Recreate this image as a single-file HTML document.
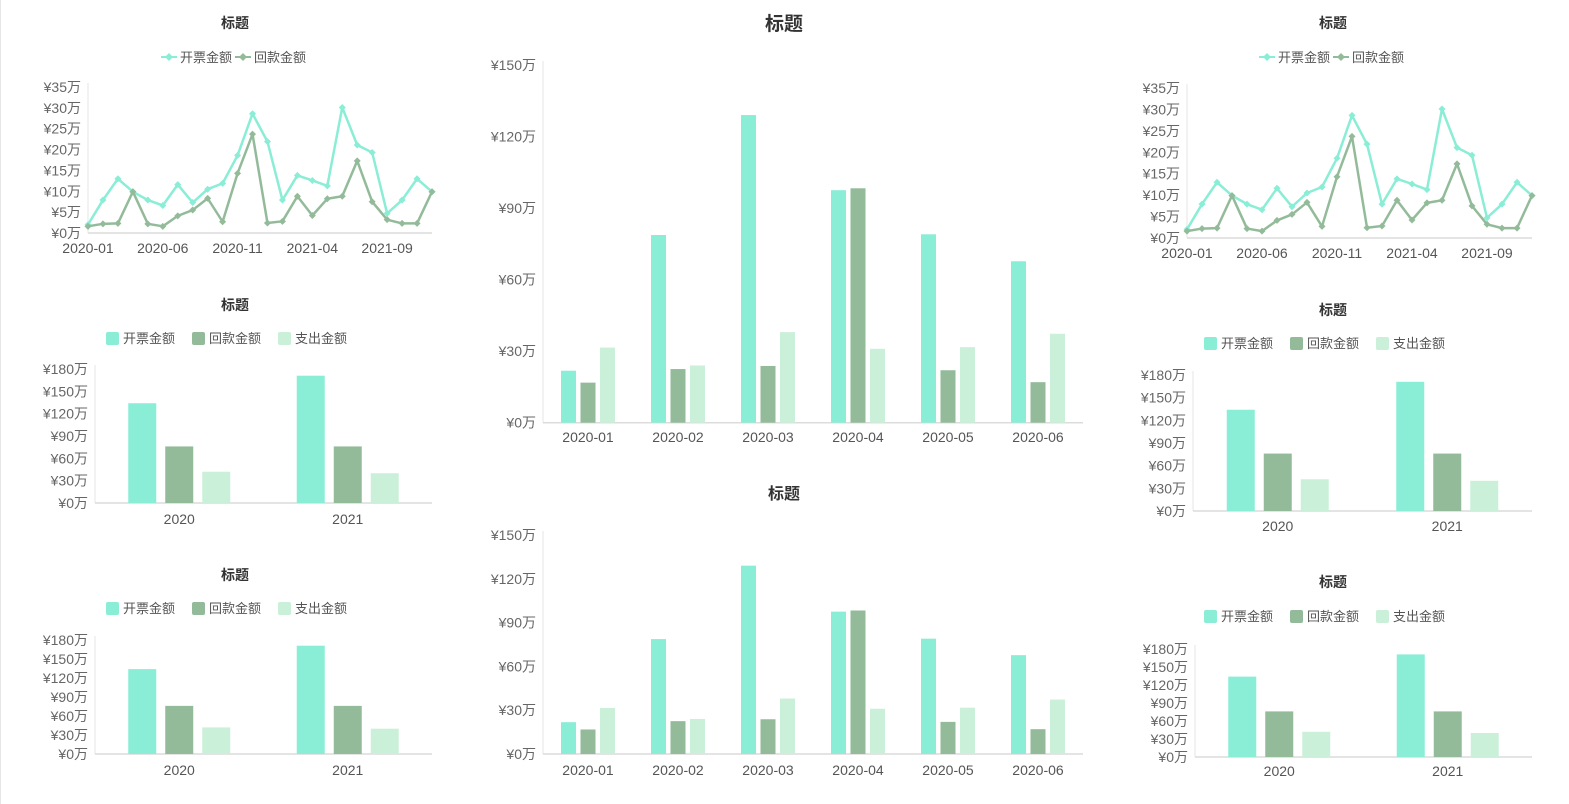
<!DOCTYPE html>
<html><head><meta charset="utf-8">
<style>
html,body{margin:0;padding:0;background:#fff;width:1569px;height:804px;overflow:hidden}
svg{display:block;font-family:"Liberation Sans","Noto Sans CJK SC",sans-serif}
</style></head>
<body>
<svg id="root" width="1569" height="804" viewBox="0 0 1569 804">
<line x1="0.5" y1="0" x2="0.5" y2="804" stroke="#e6e6e6"/>
</svg>
<script>
const lineCategories = ["2020-01","2020-02","2020-03","2020-04","2020-05","2020-06","2020-07","2020-08","2020-09","2020-10","2020-11","2020-12","2021-01","2021-02","2021-03","2021-04","2021-05","2021-06","2021-07","2021-08","2021-09","2021-10","2021-11","2021-12"];
const invoiceLine = [2.0,7.9,13.0,9.9,7.9,6.6,11.6,7.3,10.5,11.9,18.6,28.6,21.9,7.9,13.8,12.6,11.3,30.1,21.1,19.3,4.7,7.9,13.0,9.9];
const paymentLine = [1.6,2.2,2.3,9.9,2.2,1.6,4.1,5.5,8.3,2.7,14.3,23.7,2.4,2.8,8.8,4.2,8.2,8.8,17.3,7.5,3.2,2.3,2.3,9.9];
const lineTicks = [0,5,10,15,20,25,30,35];
const yearCategories = ["2020","2021"];
const yearInvoice = [134,171];
const yearPayment = [76,76];
const yearExpense = [42,40];
const yearTicks = [0,30,60,90,120,150,180];
const monthCategories = ["2020-01","2020-02","2020-03","2020-04","2020-05","2020-06"];
const monthInvoice = [21.8,78.7,129,97.5,79,67.7];
const monthPayment = [16.8,22.5,23.8,98.3,22,17];
const monthExpense = [31.5,24,38,31,31.7,37.3];
const monthTicks = [0,30,60,90,120,150];
const seriesNames = ["开票金额","回款金额","支出金额"];
const colors = ["#8AEDD5","#93BB9A","#CBF0DA"];

const NS="http://www.w3.org/2000/svg";
const root=document.getElementById('root');
function mk(tag,attrs,parent,text){const e=document.createElementNS(NS,tag);for(const k in attrs)e.setAttribute(k,attrs[k]);if(text!==undefined)e.textContent=text;(parent||root).appendChild(e);return e;}

function title(g,x,y,size){
  const t=mk('text',{x:x,y:y,'text-anchor':'middle','font-size':size,'font-weight':'bold',fill:'#333'},g,'标题');
  
  
}
function legend(g,cx,y,n,line){
  const w=line?74:86;const start=cx-w*n/2;
  for(let i=0;i<n;i++){
    const lg=mk('g',{},g);
    
    
    const x=start+i*w;
    if(line){
      mk('line',{x1:x,y1:y,x2:x+16,y2:y,stroke:colors[i],'stroke-width':2},lg);
      mk('path',{d:`M${x+8} ${y-4}L${x+12} ${y}L${x+8} ${y+4}L${x+4} ${y}Z`,fill:colors[i]},lg);
      mk('text',{x:x+19,y:y+5,'font-size':13,fill:'#555'},lg,seriesNames[i]);
    }else{
      mk('rect',{x:x,y:y-6,width:13,height:13,rx:2,fill:colors[i]},lg);
      mk('text',{x:x+17,y:y+5,'font-size':13,fill:'#555'},lg,seriesNames[i]);
    }
  }
}
function yAxis(g,left,right,y0,yTop,ticks,fs){
  const max=ticks[ticks.length-1];
  const ys=v=>y0-(y0-yTop)*v/max;
  mk('line',{x1:left,y1:yTop-4,x2:left,y2:y0,stroke:'#e6e6e6'},g);
  mk('line',{x1:left,y1:y0,x2:right,y2:y0,stroke:'#dcdcdc','stroke-width':1.5},g);
  ticks.forEach(t=>{
    const tl=mk('text',{x:left-7,y:ys(t)+5,'text-anchor':'end','font-size':fs,fill:'#666'},g,'¥'+t+'万');
    
    
  });
  return ys;
}
function lineChart(name,cx,titleY,legY,left,right,y0,yTop,xLabY){
  const g=mk('g',{});
  
  
  title(g,cx,titleY,14);legend(g,cx,legY,2,true);
  const ys=yAxis(g,left,right,y0,yTop,lineTicks,14);
  const n=lineCategories.length;const xs=i=>left+(right-left)*i/(n-1);
  lineCategories.forEach((c,i)=>{if(i%5===0){
    const t=mk('text',{x:xs(i),y:xLabY,'text-anchor':'middle','font-size':14,fill:'#555'},g,c);
    
    
  }});
  [invoiceLine,paymentLine].forEach((arr,si)=>{
    const p=mk('polyline',{points:arr.map((v,i)=>xs(i)+','+ys(v)).join(' '),fill:'none',stroke:colors[si],'stroke-width':2.5,'stroke-linejoin':'round'},g);
    
    
    arr.forEach((v,i)=>{
      const x=xs(i),y=ys(v);
      const m=mk('path',{d:`M${x} ${y-3.5}L${x+3.5} ${y}L${x} ${y+3.5}L${x-3.5} ${y}Z`,fill:colors[si]},g);
      
      
    });
  });
}
function barChart(name,cx,titleY,legY,left,right,y0,yTop,xLabY,cats,series,ticks,bw,step,titleSize,legend3,fs){
  const g=mk('g',{});
  
  
  title(g,cx,titleY,titleSize);
  if(legend3)legend(g,cx,legY,3,false);
  const ys=yAxis(g,left,right,y0,yTop,ticks,fs);
  const n=cats.length;const band=(right-left)/n;
  cats.forEach((c,i)=>{
    const cc=left+band*(i+0.5);
    const t=mk('text',{x:cc,y:xLabY,'text-anchor':'middle','font-size':14,fill:'#555'},g,c);
    
    
    series.forEach((arr,si)=>{
      const x=cc+(si-1)*step-bw/2;const y=ys(arr[i]);
      const r=mk('rect',{x:x,y:y,width:bw,height:y0-y,fill:colors[si]},g);
      
      
    });
  });
}
lineChart('line-chart-top-left',235,28,57,88,432,233,87,253);
lineChart('line-chart-top-right',1333,28,57,1187,1532,238,88,258);
const ySeries=[yearInvoice,yearPayment,yearExpense];
const mSeries=[monthInvoice,monthPayment,monthExpense];
barChart('bar-chart-mid-left',235,310,338,95,432,503,369,524,yearCategories,ySeries,yearTicks,28,37,14,true,14);
barChart('bar-chart-bottom-left',235,580,608,95,432,754,640,775,yearCategories,ySeries,yearTicks,28,37,14,true,14);
barChart('bar-chart-mid-right',1333,315,343,1193,1532,511,375,531,yearCategories,ySeries,yearTicks,28,37,14,true,14);
barChart('bar-chart-bottom-right',1333,587,616,1195,1532,757,649,776,yearCategories,ySeries,yearTicks,28,37,14,true,14);
barChart('bar-chart-center-top',784,30,0,543,1083,422.7,65,442,monthCategories,mSeries,monthTicks,15,19.5,19,false,14);
barChart('bar-chart-center-bottom',784,499,0,543,1083,754,535,775,monthCategories,mSeries,monthTicks,15,19.5,16,false,14);
</script>
</body></html>
